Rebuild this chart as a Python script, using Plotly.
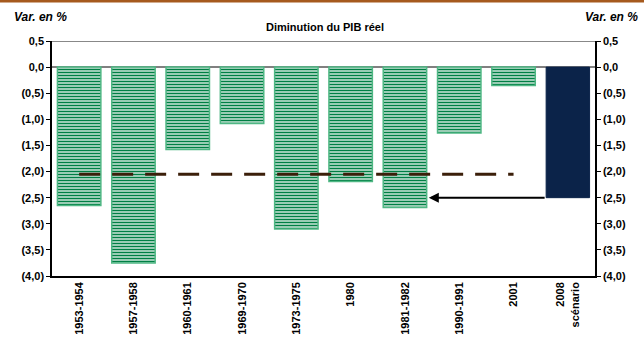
import plotly.graph_objects as go

categories = ["1953-1954", "1957-1958", "1960-1961", "1969-1970", "1973-1975",
              "1980", "1981-1982", "1990-1991", "2001", "2008<br>scénario"]
values = [-2.65, -3.75, -1.58, -1.08, -3.10, -2.19, -2.69, -1.26, -0.35, -2.50]
average_level = -2.05
tick_vals = [0.5, 0.0, -0.5, -1.0, -1.5, -2.0, -2.5, -3.0, -3.5, -4.0]
tick_text = ["0,5", "0,0", "(0,5)", "(1,0)", "(1,5)", "(2,0)", "(2,5)", "(3,0)", "(3,5)", "(4,0)"]

n = len(categories)
bar_width = 0.8
idx = list(range(n))

W, H = 644, 348
ML, MR, MT, MB = 52, 49, 41, 72
PW, PH = W - ML - MR, H - MT - MB

font = "Liberation Sans, Arial, sans-serif"
green_line = "#007f44"
green_edge = "#4fb784"
navy = "#0b2349"

fig = go.Figure()
fig.add_trace(go.Bar(
    x=idx[:-1], y=values[:-1], width=bar_width,
    marker=dict(
        color="white",
        line=dict(color=green_edge, width=1.5),
        pattern=dict(shape="-", fgcolor=green_line, fgopacity=1,
                     bgcolor="white", size=3, solidity=0.6),
    ),
    showlegend=False, hoverinfo="skip",
))
fig.add_trace(go.Bar(
    x=idx[-1:], y=values[-1:], width=bar_width,
    marker=dict(color=navy, line=dict(color=navy, width=1)),
    showlegend=False, hoverinfo="skip",
))
fig.add_trace(go.Scatter(
    x=[idx[0], idx[n - 2]], y=[average_level, average_level], mode="lines",
    line=dict(color="#3b1f0a", width=3, dash="21px,12px"),
    showlegend=False, hoverinfo="skip",
))
fig.add_trace(go.Scatter(x=[idx[0]], y=[0], yaxis="y2", mode="markers",
                         marker=dict(opacity=0), showlegend=False, hoverinfo="skip"))

axis_common = dict(
    range=[-4.0, 0.5], tickvals=tick_vals, ticktext=tick_text, automargin=False,
    showgrid=False, showline=True, linecolor="black", linewidth=1.5,
    ticks="outside", ticklen=4, tickcolor="black",
    tickfont=dict(family=font, size=11, color="black", weight="bold"),
)

fig.update_layout(
    width=W, height=H,
    margin=dict(l=ML, r=MR, t=MT, b=MB, autoexpand=False),
    paper_bgcolor="white", plot_bgcolor="white",
    barmode="overlay",
    xaxis=dict(
        tickvals=idx, ticktext=categories, tickangle=-90, range=[-0.5, n - 0.5],
        showline=True, linecolor="black", linewidth=1.5, ticks="", automargin=False,
        showgrid=False, zeroline=False,
        tickfont=dict(family=font, size=11, color="black", weight="bold"),
    ),
    yaxis=dict(**axis_common, zeroline=True, zerolinecolor="#808080", zerolinewidth=1.5, side="left"),
    yaxis2=dict(**axis_common, overlaying="y", side="right", zeroline=False),
    shapes=[
        dict(type="line", xref="paper", yref="y", x0=0, x1=1, y0=0.5, y1=0.5,
             line=dict(color="#606060", width=1.5)),
        dict(type="rect", xref="paper", yref="paper",
             x0=-ML / PW, x1=1 + MR / PW, y0=1 + (MT - 2.5) / PH, y1=1 + MT / PH,
             line=dict(width=0), fillcolor="#a65a1e", layer="above"),
    ],
    annotations=[
        dict(text="<b><i>Var. en %</i></b>", xref="paper", yref="paper",
             x=(12 - ML) / PW, y=1 + (MT - 17) / PH, xanchor="left", yanchor="middle",
             showarrow=False, font=dict(family=font, size=12, color="black")),
        dict(text="<b><i>Var. en %</i></b>", xref="paper", yref="paper",
             x=(640 - ML) / PW, y=1 + (MT - 17) / PH, xanchor="right", yanchor="middle",
             showarrow=False, font=dict(family=font, size=12, color="black")),
        dict(text="<b>Diminution du PIB réel</b>", xref="paper", yref="paper",
             x=(325 - ML) / PW, y=1 + (MT - 27) / PH, xanchor="center", yanchor="middle",
             showarrow=False, font=dict(family=font, size=11, color="black")),
    ],
)

# arrow from the 2008 scenario bar to the 1981-1982 bar
fig.add_annotation(
    x=idx[6] + bar_width / 2 + 0.04, y=values[9],
    ax=idx[9] - bar_width / 2, ay=values[9],
    xref="x", yref="y", axref="x", ayref="y",
    showarrow=True, arrowhead=2, arrowsize=1, arrowwidth=2, arrowcolor="black", text="",
)

fig.write_html("out.html", config={"displayModeBar": False},
               post_script="document.body.style.margin='0';document.body.style.overflow='hidden';")
